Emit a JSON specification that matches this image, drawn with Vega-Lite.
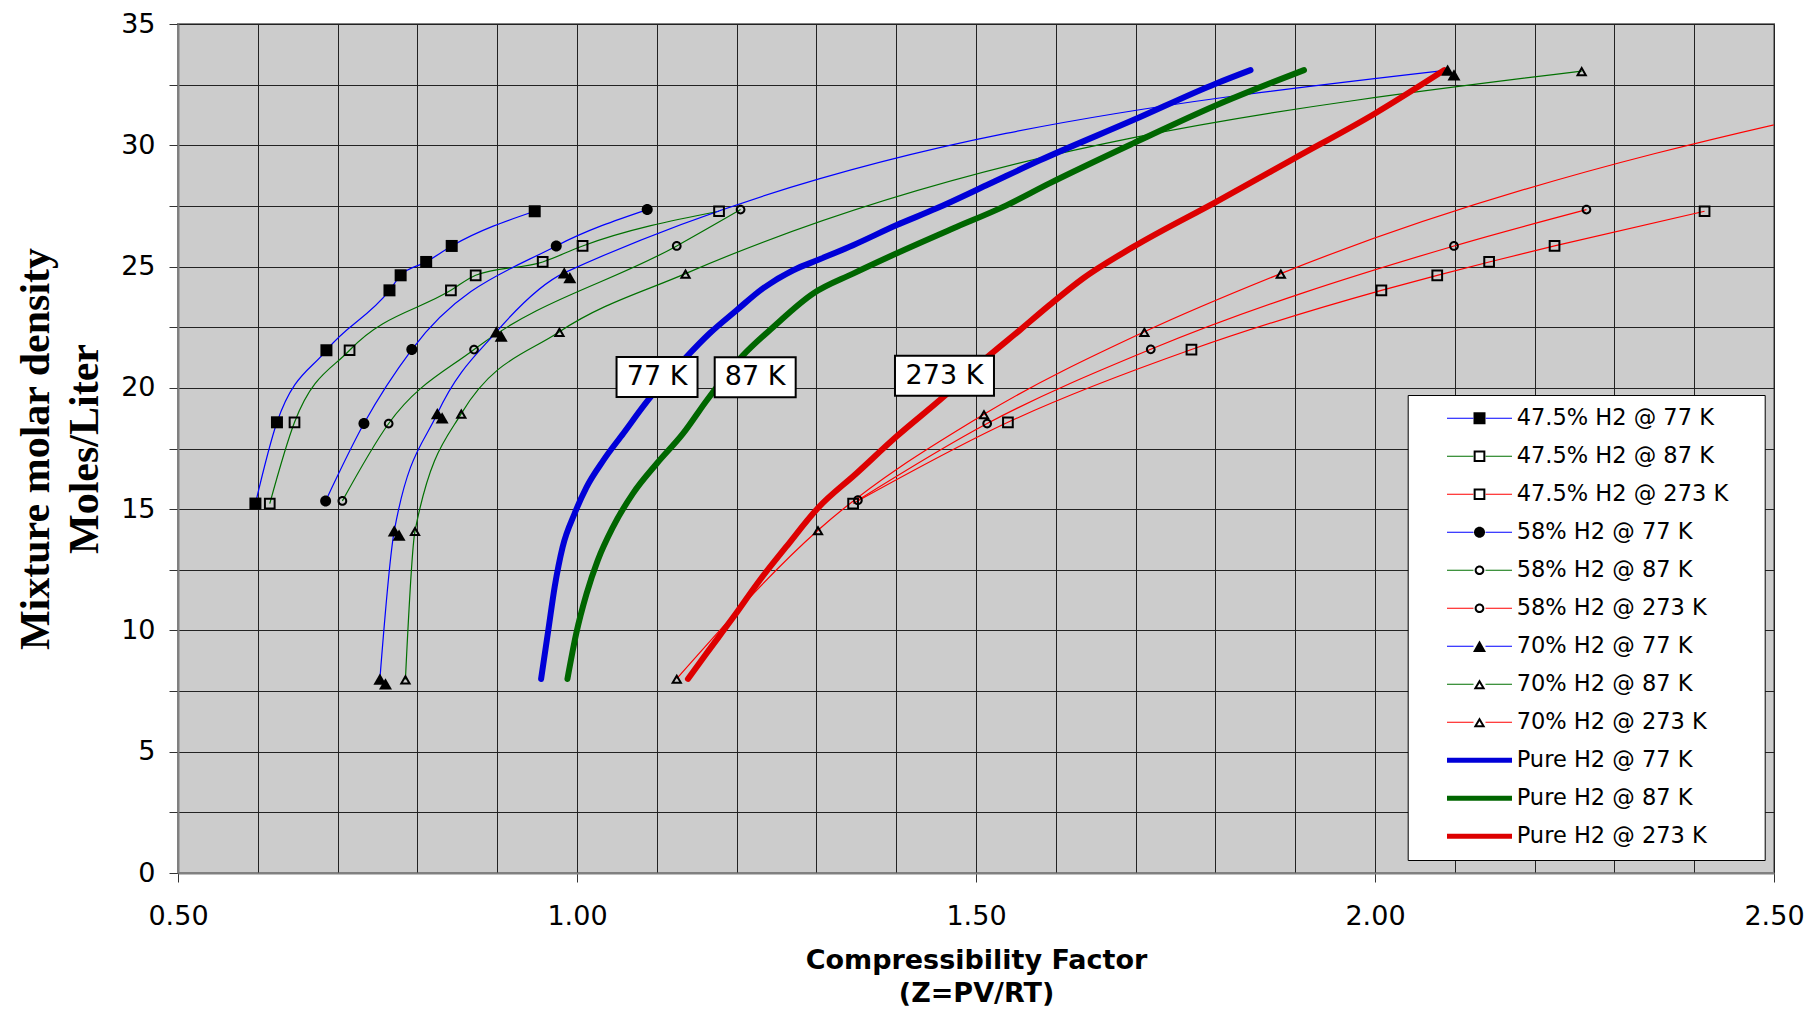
{
  "$schema": "https://vega.github.io/schema/vega-lite/v6.json",
  "width": 1596,
  "height": 849,
  "autosize": {"type": "none"},
  "padding": {"left": 178, "top": 24, "right": 34, "bottom": 137},
  "background": "white",
  "config": {
    "view": {"fill": "#cccccc", "stroke": "#808080", "strokeWidth": 2},
    "axis": {
      "labelFont": "DejaVu Sans",
      "labelFontSize": 27,
      "labelColor": "#000000",
      "tickColor": "#333333",
      "tickSize": 9,
      "tickWidth": 1,
      "gridColor": "#222222",
      "gridWidth": 1,
      "domainColor": "#808080",
      "domainWidth": 2,
      "labelOverlap": false,
      "labelFlush": false,
      "titleColor": "#000000"
    }
  },
  "datasets": {
    "curves": [
      {"series": "47.5% H2 @ 77 K", "z": 0.597, "rho": 15.23},
      {"series": "47.5% H2 @ 77 K", "z": 0.624, "rho": 18.58},
      {"series": "47.5% H2 @ 77 K", "z": 0.686, "rho": 21.55},
      {"series": "47.5% H2 @ 77 K", "z": 0.765, "rho": 24.02},
      {"series": "47.5% H2 @ 77 K", "z": 0.779, "rho": 24.64},
      {"series": "47.5% H2 @ 77 K", "z": 0.811, "rho": 25.19},
      {"series": "47.5% H2 @ 77 K", "z": 0.843, "rho": 25.85},
      {"series": "47.5% H2 @ 77 K", "z": 0.947, "rho": 27.28},
      {"series": "47.5% H2 @ 87 K", "z": 0.615, "rho": 15.23},
      {"series": "47.5% H2 @ 87 K", "z": 0.646, "rho": 18.58},
      {"series": "47.5% H2 @ 87 K", "z": 0.715, "rho": 21.55},
      {"series": "47.5% H2 @ 87 K", "z": 0.842, "rho": 24.02},
      {"series": "47.5% H2 @ 87 K", "z": 0.873, "rho": 24.64},
      {"series": "47.5% H2 @ 87 K", "z": 0.957, "rho": 25.19},
      {"series": "47.5% H2 @ 87 K", "z": 1.007, "rho": 25.85},
      {"series": "47.5% H2 @ 87 K", "z": 1.178, "rho": 27.28},
      {"series": "47.5% H2 @ 273 K", "z": 1.346, "rho": 15.23},
      {"series": "47.5% H2 @ 273 K", "z": 1.540, "rho": 18.58},
      {"series": "47.5% H2 @ 273 K", "z": 1.770, "rho": 21.58},
      {"series": "47.5% H2 @ 273 K", "z": 2.008, "rho": 24.02},
      {"series": "47.5% H2 @ 273 K", "z": 2.078, "rho": 24.64},
      {"series": "47.5% H2 @ 273 K", "z": 2.143, "rho": 25.19},
      {"series": "47.5% H2 @ 273 K", "z": 2.225, "rho": 25.85},
      {"series": "47.5% H2 @ 273 K", "z": 2.413, "rho": 27.28},
      {"series": "58% H2 @ 77 K", "z": 0.685, "rho": 15.34},
      {"series": "58% H2 @ 77 K", "z": 0.733, "rho": 18.53},
      {"series": "58% H2 @ 77 K", "z": 0.793, "rho": 21.58},
      {"series": "58% H2 @ 77 K", "z": 0.974, "rho": 25.85},
      {"series": "58% H2 @ 77 K", "z": 1.088, "rho": 27.35},
      {"series": "58% H2 @ 87 K", "z": 0.706, "rho": 15.34},
      {"series": "58% H2 @ 87 K", "z": 0.764, "rho": 18.53},
      {"series": "58% H2 @ 87 K", "z": 0.871, "rho": 21.58},
      {"series": "58% H2 @ 87 K", "z": 1.125, "rho": 25.85},
      {"series": "58% H2 @ 87 K", "z": 1.205, "rho": 27.35},
      {"series": "58% H2 @ 273 K", "z": 1.352, "rho": 15.37},
      {"series": "58% H2 @ 273 K", "z": 1.514, "rho": 18.53},
      {"series": "58% H2 @ 273 K", "z": 1.719, "rho": 21.59},
      {"series": "58% H2 @ 273 K", "z": 2.099, "rho": 25.85},
      {"series": "58% H2 @ 273 K", "z": 2.265, "rho": 27.35},
      {"series": "70% H2 @ 77 K", "z": 0.753, "rho": 7.99},
      {"series": "70% H2 @ 77 K", "z": 0.771, "rho": 14.1},
      {"series": "70% H2 @ 77 K", "z": 0.825, "rho": 18.94},
      {"series": "70% H2 @ 77 K", "z": 0.899, "rho": 22.31},
      {"series": "70% H2 @ 77 K", "z": 0.984, "rho": 24.74},
      {"series": "70% H2 @ 77 K", "z": 2.091, "rho": 33.1},
      {"series": "70% H2 @ 77 K", "z": 0.760, "rho": 7.8, "extra": true},
      {"series": "70% H2 @ 77 K", "z": 0.777, "rho": 13.93, "extra": true},
      {"series": "70% H2 @ 77 K", "z": 0.831, "rho": 18.76, "extra": true},
      {"series": "70% H2 @ 77 K", "z": 0.905, "rho": 22.13, "extra": true},
      {"series": "70% H2 @ 77 K", "z": 0.991, "rho": 24.54, "extra": true},
      {"series": "70% H2 @ 77 K", "z": 2.099, "rho": 32.9, "extra": true},
      {"series": "70% H2 @ 87 K", "z": 0.785, "rho": 7.98},
      {"series": "70% H2 @ 87 K", "z": 0.797, "rho": 14.1},
      {"series": "70% H2 @ 87 K", "z": 0.855, "rho": 18.94},
      {"series": "70% H2 @ 87 K", "z": 0.978, "rho": 22.31},
      {"series": "70% H2 @ 87 K", "z": 1.136, "rho": 24.71},
      {"series": "70% H2 @ 87 K", "z": 2.259, "rho": 33.06},
      {"series": "70% H2 @ 273 K", "z": 1.125, "rho": 8.01},
      {"series": "70% H2 @ 273 K", "z": 1.302, "rho": 14.13},
      {"series": "70% H2 @ 273 K", "z": 1.510, "rho": 18.91},
      {"series": "70% H2 @ 273 K", "z": 1.711, "rho": 22.31},
      {"series": "70% H2 @ 273 K", "z": 1.882, "rho": 24.71},
      {"series": "70% H2 @ 273 K", "z": 2.82, "rho": 33.1},
      {"series": "Pure H2 @ 77 K", "z": 0.955, "rho": 8.0},
      {"series": "Pure H2 @ 77 K", "z": 0.964, "rho": 10.0},
      {"series": "Pure H2 @ 77 K", "z": 0.972, "rho": 11.79},
      {"series": "Pure H2 @ 77 K", "z": 0.982, "rho": 13.44},
      {"series": "Pure H2 @ 77 K", "z": 0.997, "rho": 14.82},
      {"series": "Pure H2 @ 77 K", "z": 1.012, "rho": 15.91},
      {"series": "Pure H2 @ 77 K", "z": 1.033, "rho": 17.01},
      {"series": "Pure H2 @ 77 K", "z": 1.058, "rho": 18.12},
      {"series": "Pure H2 @ 77 K", "z": 1.089, "rho": 19.49},
      {"series": "Pure H2 @ 77 K", "z": 1.137, "rho": 21.27},
      {"series": "Pure H2 @ 77 K", "z": 1.166, "rho": 22.24},
      {"series": "Pure H2 @ 77 K", "z": 1.200, "rho": 23.2},
      {"series": "Pure H2 @ 77 K", "z": 1.233, "rho": 24.1},
      {"series": "Pure H2 @ 77 K", "z": 1.271, "rho": 24.85},
      {"series": "Pure H2 @ 77 K", "z": 1.304, "rho": 25.3},
      {"series": "Pure H2 @ 77 K", "z": 1.346, "rho": 25.88},
      {"series": "Pure H2 @ 77 K", "z": 1.400, "rho": 26.7},
      {"series": "Pure H2 @ 77 K", "z": 1.450, "rho": 27.39},
      {"series": "Pure H2 @ 77 K", "z": 1.513, "rho": 28.35},
      {"series": "Pure H2 @ 77 K", "z": 1.580, "rho": 29.38},
      {"series": "Pure H2 @ 77 K", "z": 1.697, "rho": 31.04},
      {"series": "Pure H2 @ 77 K", "z": 1.801, "rho": 32.55},
      {"series": "Pure H2 @ 77 K", "z": 1.844, "rho": 33.1},
      {"series": "Pure H2 @ 87 K", "z": 0.988, "rho": 8.0},
      {"series": "Pure H2 @ 87 K", "z": 0.999, "rho": 9.87},
      {"series": "Pure H2 @ 87 K", "z": 1.012, "rho": 11.52},
      {"series": "Pure H2 @ 87 K", "z": 1.026, "rho": 12.89},
      {"series": "Pure H2 @ 87 K", "z": 1.045, "rho": 14.26},
      {"series": "Pure H2 @ 87 K", "z": 1.070, "rho": 15.64},
      {"series": "Pure H2 @ 87 K", "z": 1.100, "rho": 16.88},
      {"series": "Pure H2 @ 87 K", "z": 1.133, "rho": 18.12},
      {"series": "Pure H2 @ 87 K", "z": 1.163, "rho": 19.5},
      {"series": "Pure H2 @ 87 K", "z": 1.208, "rho": 21.34},
      {"series": "Pure H2 @ 87 K", "z": 1.246, "rho": 22.51},
      {"series": "Pure H2 @ 87 K", "z": 1.296, "rho": 23.89},
      {"series": "Pure H2 @ 87 K", "z": 1.346, "rho": 24.71},
      {"series": "Pure H2 @ 87 K", "z": 1.400, "rho": 25.54},
      {"series": "Pure H2 @ 87 K", "z": 1.471, "rho": 26.57},
      {"series": "Pure H2 @ 87 K", "z": 1.534, "rho": 27.46},
      {"series": "Pure H2 @ 87 K", "z": 1.592, "rho": 28.43},
      {"series": "Pure H2 @ 87 K", "z": 1.697, "rho": 30.08},
      {"series": "Pure H2 @ 87 K", "z": 1.801, "rho": 31.65},
      {"series": "Pure H2 @ 87 K", "z": 1.911, "rho": 33.1},
      {"series": "Pure H2 @ 273 K", "z": 1.139, "rho": 8.0},
      {"series": "Pure H2 @ 273 K", "z": 1.162, "rho": 9.04},
      {"series": "Pure H2 @ 273 K", "z": 1.196, "rho": 10.55},
      {"series": "Pure H2 @ 273 K", "z": 1.229, "rho": 12.07},
      {"series": "Pure H2 @ 273 K", "z": 1.262, "rho": 13.44},
      {"series": "Pure H2 @ 273 K", "z": 1.302, "rho": 15.05},
      {"series": "Pure H2 @ 273 K", "z": 1.350, "rho": 16.47},
      {"series": "Pure H2 @ 273 K", "z": 1.400, "rho": 17.98},
      {"series": "Pure H2 @ 273 K", "z": 1.459, "rho": 19.62},
      {"series": "Pure H2 @ 273 K", "z": 1.509, "rho": 21.12},
      {"series": "Pure H2 @ 273 K", "z": 1.555, "rho": 22.38},
      {"series": "Pure H2 @ 273 K", "z": 1.592, "rho": 23.41},
      {"series": "Pure H2 @ 273 K", "z": 1.634, "rho": 24.51},
      {"series": "Pure H2 @ 273 K", "z": 1.697, "rho": 25.81},
      {"series": "Pure H2 @ 273 K", "z": 1.801, "rho": 27.67},
      {"series": "Pure H2 @ 273 K", "z": 1.899, "rho": 29.46},
      {"series": "Pure H2 @ 273 K", "z": 2.000, "rho": 31.31},
      {"series": "Pure H2 @ 273 K", "z": 2.087, "rho": 33.1}
    ],
    "tags": [
      {"label": "77 K", "z": 1.1003, "rho": 20.45},
      {"label": "87 K", "z": 1.2233, "rho": 20.44},
      {"label": "273 K", "z": 1.4605, "rho": 20.5}
    ]
  },
  "layer": [
    {
      "data": {"name": "curves"},
      "transform": [{"filter": "!datum.extra && indexof(datum.series, 'Pure') !== 0"}],
      "mark": {"type": "line", "interpolate": "monotone", "strokeWidth": 1.2, "clip": true},
      "encoding": {
        "x": {
          "field": "z", "type": "quantitative",
          "scale": {"domain": [0.5, 2.5], "nice": false, "zero": false},
          "axis": {
            "values": [0.5, 0.6, 0.7, 0.8, 0.9, 1.0, 1.1, 1.2, 1.3, 1.4, 1.5, 1.6, 1.7, 1.8, 1.9, 2.0, 2.1, 2.2, 2.3, 2.4, 2.5],
            "format": ".2f",
            "labelExpr": "abs(datum.value * 2 - round(datum.value * 2)) < 0.001 ? datum.label : ''",
            "tickOpacity": {"condition": {"test": "abs(datum.value * 2 - round(datum.value * 2)) < 0.001", "value": 1}, "value": 0},
            "labelPadding": 21,
            "title": ["Compressibility Factor", "(Z=PV/RT)"],
            "titleFont": "DejaVu Sans",
            "titleFontWeight": "bold",
            "titleFontSize": 27,
            "titleLineHeight": 33,
            "titlePadding": 18
          }
        },
        "y": {
          "field": "rho", "type": "quantitative",
          "scale": {"domain": [0, 35], "nice": false, "zero": true},
          "axis": {
            "values": [0, 2.5, 5, 7.5, 10, 12.5, 15, 17.5, 20, 22.5, 25, 27.5, 30, 32.5, 35],
            "labelExpr": "datum.value % 5 === 0 ? datum.label : ''",
            "labelPadding": 14,
            "title": ["Mixture molar density", "Moles/Liter"],
            "titleFont": "Liberation Serif",
            "titleFontWeight": "bold",
            "titleFontSize": 42,
            "titleLineHeight": 49,
            "titlePadding": 14
          }
        },
        "color": {
          "field": "series", "type": "nominal",
          "scale": {
            "domain": ["47.5% H2 @ 77 K", "47.5% H2 @ 87 K", "47.5% H2 @ 273 K", "58% H2 @ 77 K", "58% H2 @ 87 K", "58% H2 @ 273 K", "70% H2 @ 77 K", "70% H2 @ 87 K", "70% H2 @ 273 K", "Pure H2 @ 77 K", "Pure H2 @ 87 K", "Pure H2 @ 273 K"],
            "range": ["#0000ff", "#007000", "#ff0000", "#0000ff", "#007000", "#ff0000", "#0000ff", "#007000", "#ff0000", "#0000d8", "#006600", "#dd0000"]
          },
          "legend": {
            "title": null, "orient": "none", "legendX": 1229.7, "legendY": 371,
            "padding": 12, "rowPadding": 15, "zindex": 2,
            "symbolType": "M-5.417,0H-1M1,0H5.417", "symbolSize": 144, "symbolOffset": 48.55, "symbolStrokeWidth": 1.2,
            "labelOffset": 25.95, "labelFont": "DejaVu Sans", "labelFontSize": 22.5, "labelColor": "#000000", "labelLimit": 400
          }
        }
      }
    },
    {
      "data": {"name": "curves"},
      "transform": [{"filter": "indexof(datum.series, 'Pure') === 0"}],
      "mark": {"type": "line", "interpolate": "monotone", "strokeWidth": 6, "strokeCap": "round", "strokeJoin": "round", "clip": true},
      "encoding": {
        "x": {"field": "z", "type": "quantitative"},
        "y": {"field": "rho", "type": "quantitative"},
        "color": {
          "field": "series", "type": "nominal",
          "legend": {
            "title": null, "orient": "none", "legendX": 1229.7, "legendY": 371,
            "padding": 12, "rowPadding": 15, "zindex": 2,
            "symbolType": "M-5.417,0H-1M1,0H5.417", "symbolSize": 144, "symbolOffset": 48.55, "symbolStrokeWidth": 1.2,
            "labelOffset": 25.95, "labelFont": "DejaVu Sans", "labelFontSize": 22.5, "labelColor": "#000000", "labelLimit": 400
          }
        }
      }
    },
    {
      "data": {"name": "curves"},
      "transform": [{"filter": "indexof(datum.series, 'Pure') !== 0"}],
      "mark": {"type": "point", "size": 144, "filled": true, "strokeWidth": 0, "opacity": 1, "clip": true},
      "encoding": {
        "x": {"field": "z", "type": "quantitative"},
        "y": {"field": "rho", "type": "quantitative"},
        "shape": {
          "field": "series", "type": "nominal",
          "scale": {
            "domain": ["47.5% H2 @ 77 K", "47.5% H2 @ 87 K", "47.5% H2 @ 273 K", "58% H2 @ 77 K", "58% H2 @ 87 K", "58% H2 @ 273 K", "70% H2 @ 77 K", "70% H2 @ 87 K", "70% H2 @ 273 K", "Pure H2 @ 77 K", "Pure H2 @ 87 K", "Pure H2 @ 273 K"],
            "range": [
              "M-1,-1H1V1H-1Z",
              "M-0.975,-0.975H0.975V0.975H-0.975Z M-0.642,-0.642V0.642H0.642V-0.642Z",
              "M-0.975,-0.975H0.975V0.975H-0.975Z M-0.642,-0.642V0.642H0.642V-0.642Z",
              "M-0.917,0A0.917,0.917 0 1,1 0.917,0A0.917,0.917 0 1,1 -0.917,0Z",
              "M-0.81,0A0.81,0.81 0 1,1 0.81,0A0.81,0.81 0 1,1 -0.81,0Z M-0.475,0A0.475,0.475 0 1,0 0.475,0A0.475,0.475 0 1,0 -0.475,0Z",
              "M-0.81,0A0.81,0.81 0 1,1 0.81,0A0.81,0.81 0 1,1 -0.81,0Z M-0.475,0A0.475,0.475 0 1,0 0.475,0A0.475,0.475 0 1,0 -0.475,0Z",
              "M0,-0.938L1.083,0.938H-1.083Z",
              "M0,-0.845L0.975,0.845H-0.975Z M0,-0.178L-0.399,0.512H0.399Z",
              "M0,-0.845L0.975,0.845H-0.975Z M0,-0.178L-0.399,0.512H0.399Z",
              "M-5.417,-0.417H5.417V0.417H-5.417Z",
              "M-5.417,-0.417H5.417V0.417H-5.417Z",
              "M-5.417,-0.417H5.417V0.417H-5.417Z"]
          },
          "legend": {
            "title": null, "orient": "none", "legendX": 1229.7, "legendY": 371,
            "padding": 12, "rowPadding": 15, "zindex": 1,
            "symbolSize": 144, "symbolStrokeWidth": 0, "symbolOffset": 48.55,
            "labelExpr": "' '", "labelOffset": 261, "labelFont": "DejaVu Sans", "labelFontSize": 22.5, "labelColor": "transparent", "labelLimit": 400,
            "fillColor": "white", "strokeColor": "black"
          }
        },
        "fill": {
          "field": "series", "type": "nominal",
          "scale": {
            "domain": ["47.5% H2 @ 77 K", "47.5% H2 @ 87 K", "47.5% H2 @ 273 K", "58% H2 @ 77 K", "58% H2 @ 87 K", "58% H2 @ 273 K", "70% H2 @ 77 K", "70% H2 @ 87 K", "70% H2 @ 273 K", "Pure H2 @ 77 K", "Pure H2 @ 87 K", "Pure H2 @ 273 K"],
            "range": ["black", "black", "black", "black", "black", "black", "black", "black", "black", "#0000d8", "#006600", "#dd0000"]
          },
          "legend": {
            "title": null, "orient": "none", "legendX": 1229.7, "legendY": 371,
            "padding": 12, "rowPadding": 15, "zindex": 1,
            "symbolSize": 144, "symbolStrokeWidth": 0, "symbolOffset": 48.55,
            "labelExpr": "' '", "labelOffset": 261, "labelFont": "DejaVu Sans", "labelFontSize": 22.5, "labelColor": "transparent", "labelLimit": 400,
            "fillColor": "white", "strokeColor": "black"
          }
        }
      }
    },
    {
      "data": {"name": "tags"},
      "mark": {"type": "point", "filled": true, "fill": "white", "stroke": "black", "strokeWidth": 2, "opacity": 1, "size": 9801},
      "encoding": {
        "x": {"field": "z", "type": "quantitative"},
        "y": {"field": "rho", "type": "quantitative"},
        "shape": {
          "condition": {"test": "length(datum.label) > 4", "value": "M-1,-0.404H1V0.404H-1Z"},
          "value": "M-0.818,-0.404H0.818V0.404H-0.818Z"
        }
      }
    },
    {
      "data": {"name": "tags"},
      "mark": {"type": "text", "font": "DejaVu Sans", "fontSize": 27, "color": "black", "align": "center", "baseline": "middle"},
      "encoding": {
        "x": {"field": "z", "type": "quantitative"},
        "y": {"field": "rho", "type": "quantitative"},
        "text": {"field": "label"}
      }
    }
  ],
  "resolve": {"scale": {"shape": "independent", "fill": "independent"}}
}
